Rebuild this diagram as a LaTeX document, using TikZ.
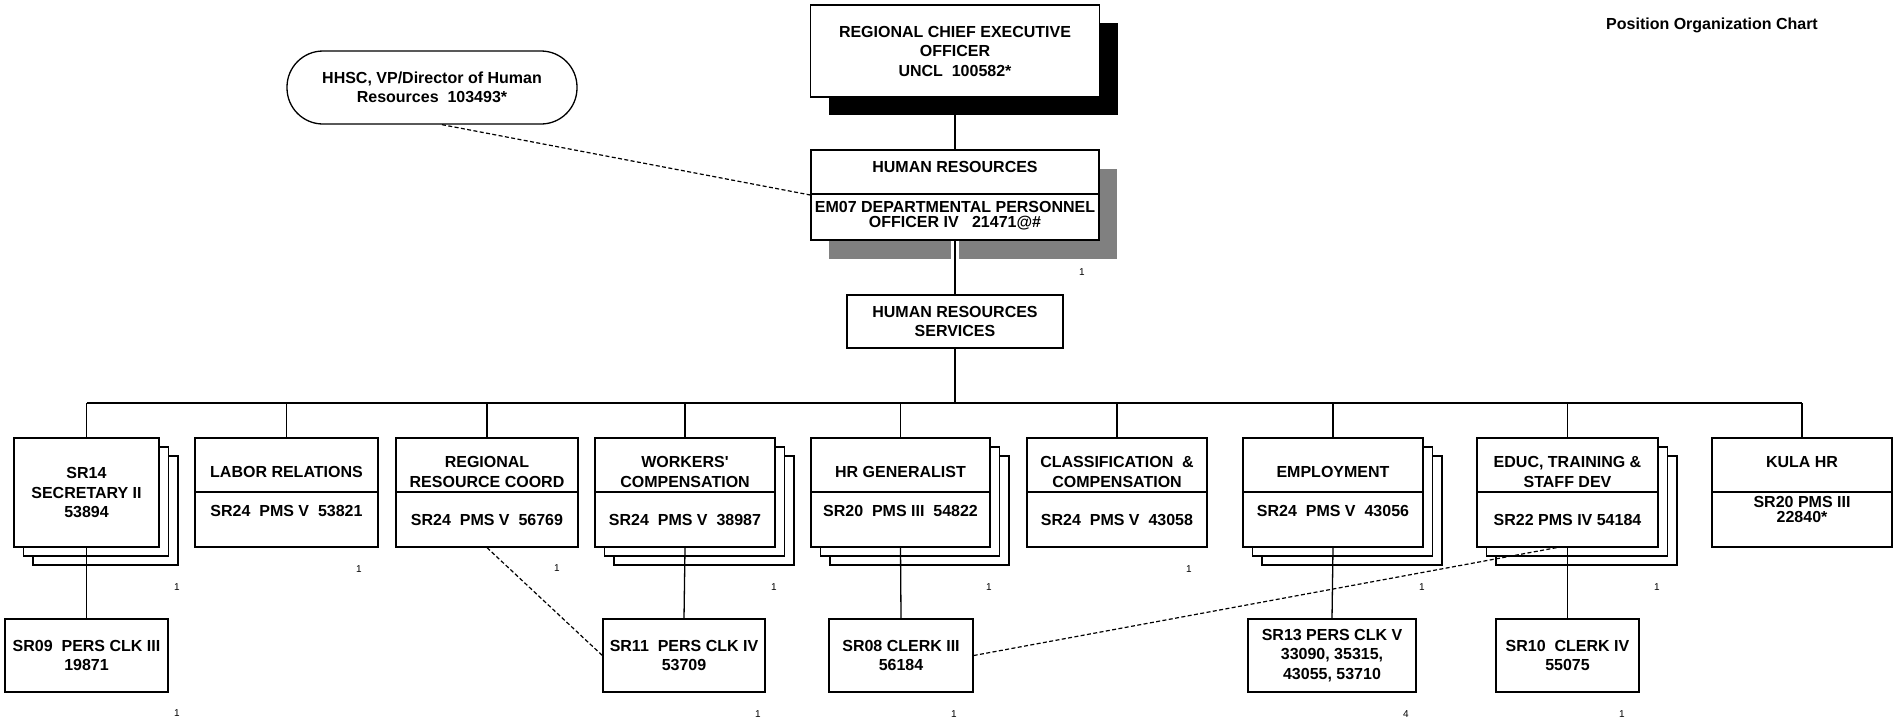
\documentclass[tikz,border=0pt]{standalone}
\usepackage{fontspec}
\setmainfont{Liberation Sans}
\usetikzlibrary{shadows}
\newcommand{\pocfont}{\fontsize{8}{9.75}\selectfont\bfseries}
\tikzset{
  poc line/.style={draw=black, line width=0.65pt},
  poc gap/.style={preaction={draw=white, line width=4pt}},
  poc link/.style={draw=black, line width=0.6pt, dash pattern=on 2pt off 1.2pt},
  poc box/.style={draw=black, fill=white, line width=0.65pt, inner sep=0pt, font=\pocfont, align=center},
  poc stack/.style={poc box,
    copy shadow={shadow xshift=9.5pt, shadow yshift=-9pt},
    copy shadow={shadow xshift=4.75pt, shadow yshift=-4.5pt}},
  poc text/.style={font=\pocfont, align=center, inner sep=0pt},
  poc count/.style={font=\fontsize{5}{6}\selectfont, inner sep=0pt},
}

\begin{document}
\begin{tikzpicture}[x=0.5pt,y=-0.5pt]
  \useasboundingbox (0,0) rectangle (1898,720);
  \node[poc text] (title) at (1712,25) {Position Organization Chart};
  % top of the chart
  \node[poc box, minimum width=144.5pt, minimum height=46pt,
        drop shadow={shadow xshift=9pt, shadow yshift=-9pt, fill=black, opacity=1}]
        (rceo) at (955,51) {REGIONAL CHIEF EXECUTIVE\\OFFICER\\UNCL\ \ 100582*};
  \node[poc box, rounded corners=18pt, minimum width=145pt, minimum height=36.5pt]
        (hhsc) at (432,87.5) {HHSC, VP/Director of Human\\Resources\ \ 103493*};
  \node[poc box, minimum width=144pt, minimum height=45pt,
        drop shadow={shadow xshift=9pt, shadow yshift=-9.5pt, fill=black!50, opacity=1}]
        (hr) at (955,195) {};
  \draw[poc line] (hr.west |- 0,194) -- (hr.east |- 0,194);
  \node[poc text] (hrname) at (955,167) {HUMAN RESOURCES};
  \node[poc text] (hrpos) at (955,215.5) {EM07 DEPARTMENTAL PERSONNEL\\[-2.25pt]OFFICER IV\ \ \ 21471@\#};
  \node[poc box, minimum width=108pt, minimum height=26.5pt]
        (hrs) at (955,321.5) {HUMAN RESOURCES\\SERVICES};
  \draw[poc line] (rceo) -- (hr);
  \draw[poc line, poc gap] (hr) -- (hrs);
  \coordinate (bus) at (955,403);
  \draw[poc line] (hrs) -- (bus);
  % sections
  \node[poc stack, minimum width=72.5pt, minimum height=54.5pt]
        (sec1) at (86.5,492.5) {SR14\\SECRETARY II\\53894};
  \foreach \i/\cx/\w/\kind in {2/286.5/91.5/poc box, 3/487/91/poc box,
      4/685/90/poc stack, 5/900.5/89.5/poc stack, 6/1117/90/poc box,
      7/1333/90/poc stack, 8/1567.5/90.5/poc stack, 9/1802/90/poc box} {
    \node[\kind, minimum width=\w pt, minimum height=54.5pt] (sec\i) at (\cx,492.5) {};
    \draw[poc line] (sec\i.west |- 0,492) -- (sec\i.east |- 0,492);
  }
  \draw[poc line] (sec1.north |- bus) -- (sec9.north |- bus);
  \foreach \i in {1,...,9}
    \draw[poc line] (sec\i.north |- bus) -- (sec\i.north);
  \node[poc text] (sec2a) at (286.5,472) {LABOR RELATIONS};
  \node[poc text] (sec2b) at (286.5,511) {SR24\ \ PMS V\ \ 53821};
  \node[poc text] (sec3a) at (487,472) {REGIONAL\\RESOURCE COORD};
  \node[poc text] (sec3b) at (487,520) {SR24\ \ PMS V\ \ 56769};
  \node[poc text] (sec4a) at (685,472) {WORKERS\textquotesingle\\COMPENSATION};
  \node[poc text] (sec4b) at (685,520) {SR24\ \ PMS V\ \ 38987};
  \node[poc text] (sec5a) at (900.5,472) {HR GENERALIST};
  \node[poc text] (sec5b) at (900.5,511) {SR20\ \ PMS III\ \ 54822};
  \node[poc text] (sec6a) at (1117,472) {CLASSIFICATION\ \ \&\\COMPENSATION};
  \node[poc text] (sec6b) at (1117,520) {SR24\ \ PMS V\ \ 43058};
  \node[poc text] (sec7a) at (1333,472) {EMPLOYMENT};
  \node[poc text] (sec7b) at (1333,511) {SR24\ \ PMS V\ \ 43056};
  \node[poc text] (sec8a) at (1567.5,472) {EDUC, TRAINING \&\\STAFF DEV};
  \node[poc text] (sec8b) at (1567.5,520) {SR22 PMS IV 54184};
  \node[poc text] (sec9a) at (1802,462) {KULA HR};
  \node[poc text] (sec9b) at (1802,509.5) {SR20 PMS III\\[-2.25pt]22840*};
  % clerks
  \node[poc box, minimum width=81.5pt, minimum height=36.5pt]
        (clk1) at (86.5,655.5) {SR09\ \ PERS CLK III\\19871};
  \node[poc box, minimum width=81pt, minimum height=36.5pt]
        (clk4) at (684,655.5) {SR11\ \ PERS CLK IV\\53709};
  \node[poc box, minimum width=72pt, minimum height=36.5pt]
        (clk5) at (901,655.5) {SR08 CLERK III\\56184};
  \node[poc box, minimum width=84pt, minimum height=36.5pt]
        (clk7) at (1332,655.5) {SR13 PERS CLK V\\33090, 35315,\\43055, 53710};
  \node[poc box, minimum width=71.5pt, minimum height=36.5pt]
        (clk8) at (1567.5,655.5) {SR10\ \ CLERK IV\\55075};
  \foreach \i in {1,4,5,7,8}
    \draw[poc line] (sec\i.south) -- (clk\i.north);
  % dotted reporting lines
  \draw[poc link] ([xshift=5pt]hhsc.south) -- (hr.west);
  \draw[poc link] (sec3.south) -- (clk4.west);
  \draw[poc link] (clk5.east) -- ([xshift=-5.5pt]sec8.south);
  % position counts
  \foreach \x/\y/\n [count=\k] in {1082/272/1, 177/587/1, 359/569/1, 557/568/1,
      774/587/1, 989/587/1, 1189/569/1, 1422/587/1, 1657/587/1, 177/713/1,
      758/714/1, 954/714/1, 1406/714/4, 1622/714/1}
    \node[poc count] (n\k) at (\x,\y) {\n};
\end{tikzpicture}
\end{document}
